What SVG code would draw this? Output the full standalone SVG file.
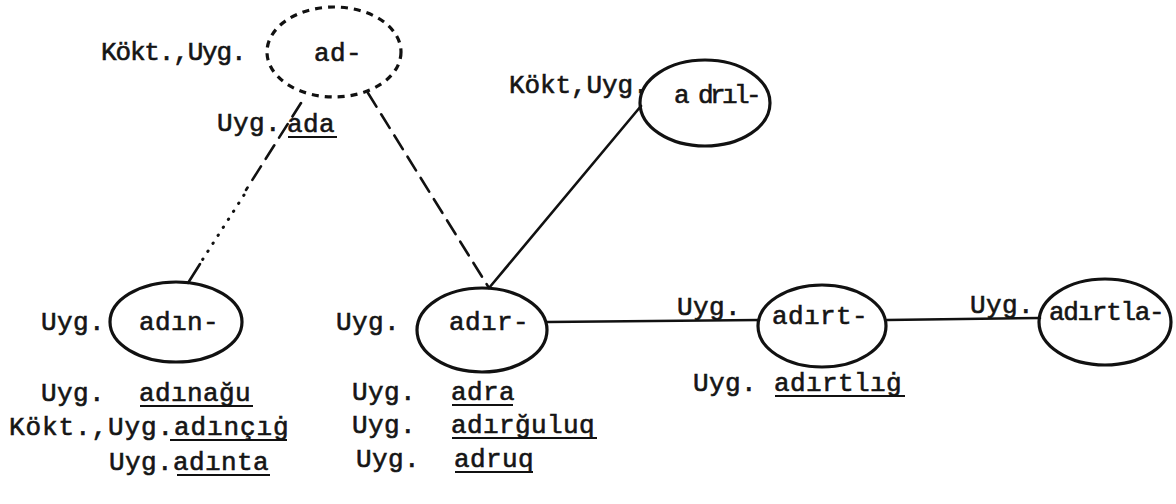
<svg xmlns="http://www.w3.org/2000/svg" width="1176" height="504" viewBox="0 0 1176 504">
<style>
.t{font-family:"Liberation Mono","DejaVu Sans Mono",monospace;font-size:26px;letter-spacing:0.4px;fill:#151515;stroke:#151515;stroke-width:0.6px}
.n{fill:none;stroke:#111;stroke-width:3.2}
.e{fill:none;stroke:#111;stroke-width:2.6;stroke-linecap:round}
.dash{stroke-dasharray:16 9}
.dot{stroke-dasharray:0.5 9;stroke-width:3}
.ul{stroke:#111;stroke-width:2}
</style>
<rect width="1176" height="504" fill="#fff"/>
<g id="connectors">
<line class="e dash" x1="301" y1="103" x2="246" y2="190"/>
<line class="e dot" x1="244" y1="195" x2="201" y2="262"/>
<line class="e" x1="200" y1="264" x2="188" y2="283"/>
<line class="e dash" x1="368" y1="93" x2="489" y2="288"/>
<line class="e" x1="489" y1="288" x2="641" y2="106"/>
<line class="e" x1="547" y1="322" x2="759" y2="320"/>
<line class="e" x1="887" y1="320" x2="1040" y2="318"/>
<text class="t" x="677" y="315">Uyg.</text>
<text class="t" x="970" y="313">Uyg.</text>
</g>
<g id="node-ad">
<ellipse class="n" cx="334" cy="52" rx="67" ry="45" stroke-dasharray="7 6"/>
<text class="t" x="314" y="61">ad-</text>
<text class="t" x="101" y="60" textLength="146" lengthAdjust="spacing">Kökt.,Uyg.</text>
<text class="t" x="217" y="131">Uyg.</text>
<text class="t" x="287" y="132">ada</text>
<line class="ul" x1="288" y1="137" x2="337" y2="137"/>
</g>
<g id="node-adril">
<ellipse class="n" cx="705" cy="103" rx="65" ry="43"/>
<text class="t" x="674" y="103" textLength="88" lengthAdjust="spacing">a drıl-</text>
<text class="t" x="509" y="93" textLength="140" lengthAdjust="spacing">Kökt,Uyg.</text>
</g>
<g id="node-adin">
<ellipse class="n" cx="176" cy="322" rx="66" ry="40"/>
<text class="t" x="41" y="330">Uyg.</text>
<text class="t" x="139" y="330">adın-</text>
<text class="t" x="41" y="401">Uyg.</text>
<text class="t" x="139" y="401">adınağu</text>
<line class="ul" x1="140" y1="406" x2="253" y2="406"/>
<text class="t" x="9" y="435" textLength="280" lengthAdjust="spacing">Kökt.,Uyg.adınçıġ</text>
<line class="ul" x1="170" y1="440" x2="287" y2="440"/>
<text class="t" x="109" y="470">Uyg.adınta</text>
<line class="ul" x1="177" y1="475" x2="270" y2="475"/>
</g>
<g id="node-adir">
<ellipse class="n" cx="482" cy="330" rx="65" ry="42"/>
<text class="t" x="336" y="330">Uyg.</text>
<text class="t" x="449" y="330">adır-</text>
<text class="t" x="352" y="400">Uyg.</text>
<text class="t" x="451" y="400">adra</text>
<line class="ul" x1="452" y1="405" x2="513" y2="405"/>
<text class="t" x="352" y="433">Uyg.</text>
<text class="t" x="451" y="433">adırğuluq</text>
<line class="ul" x1="452" y1="438" x2="597" y2="438"/>
<text class="t" x="356" y="467">Uyg.</text>
<text class="t" x="454" y="467">adruq</text>
<line class="ul" x1="455" y1="472" x2="533" y2="472"/>
</g>
<g id="node-adirt">
<ellipse class="n" cx="822" cy="326" rx="64" ry="41"/>
<text class="t" x="772" y="324">adırt-</text>
<text class="t" x="693" y="391">Uyg.</text>
<text class="t" x="774" y="391">adırtlıġ</text>
<line class="ul" x1="775" y1="396" x2="905" y2="396"/>
</g>
<g id="node-adirtla">
<ellipse class="n" cx="1105" cy="322" rx="66" ry="43"/>
<text class="t" x="1049" y="320" textLength="116" lengthAdjust="spacing">adırtla-</text>
</g>
</svg>
